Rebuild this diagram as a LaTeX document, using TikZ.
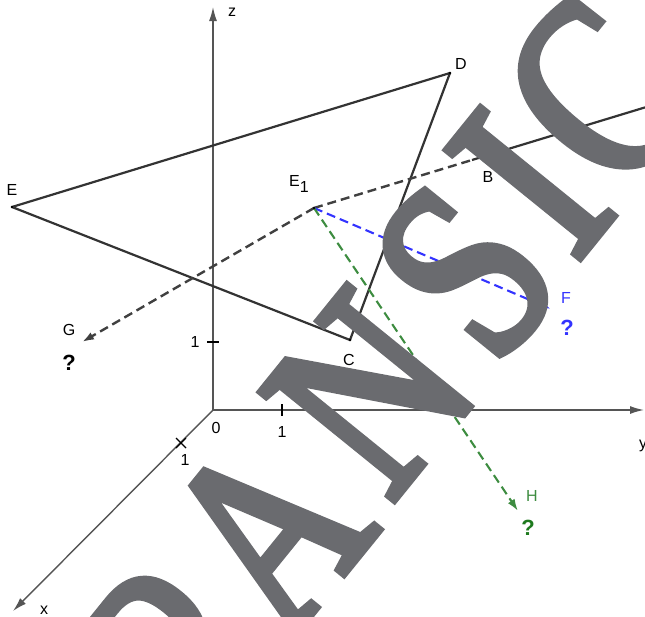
\documentclass[tikz,border=0pt]{standalone}
\usepackage{fontspec}
\setmainfont{Liberation Sans}
\newfontfamily\wmfont[FakeStretch=0.78,FakeBold=3]{Liberation Serif}
\usetikzlibrary{arrows.meta}
\definecolor{axisc}{HTML}{555555}
\definecolor{polyc}{HTML}{333333}
\definecolor{dashc}{HTML}{404040}
\definecolor{bluec}{HTML}{3333FF}
\definecolor{greenc}{HTML}{3D8C40}
\definecolor{greenlab}{HTML}{1E7A1E}
\definecolor{wmc}{HTML}{6A6B6F}
\begin{document}
\begin{tikzpicture}[x=1pt,y=-1pt,
  axis/.style={draw=axisc,line width=1.4pt,-{Latex[length=14pt,width=8pt]}},
  tickm/.style={draw=black,line width=1.2pt},
  poly/.style={draw=polyc,line width=2.2pt,line join=round},
  dline/.style={draw=dashc,line width=2.4pt,dash pattern=on 9pt off 5pt},
  blueline/.style={draw=bluec,line width=2.1pt,dash pattern=on 9pt off 5pt,-{Latex[length=12pt,width=8pt]}},
  greenline/.style={draw=greenc,line width=2.1pt,dash pattern=on 9pt off 5pt,-{Latex[length=12pt,width=8pt]}},
  arrowtip/.style={-{Latex[length=12pt,width=8pt]}},
  lab/.style={font=\fontsize{16}{16}\selectfont,inner sep=0pt},
  qm/.style={font=\fontsize{22}{22}\selectfont\bfseries,inner sep=0pt},
  wm/.style={font=\wmfont\fontsize{262}{262}\selectfont,text=wmc,inner sep=0pt,rotate=51,anchor=base}]
\useasboundingbox (0,0) rectangle (645,616);
% axes
\coordinate (O) at (213,410);
\coordinate (Xe) at (13,611);
\coordinate (Ye) at (644,410);
\coordinate (Ze) at (213,7);
\draw[axis] (O) -- (Xe);
\draw[axis] (O) -- (Ye);
\draw[axis] (O) -- (Ze);
% ticks
\draw[tickm] (282,404) -- (282,416);
\draw[tickm] (207,342) -- (219,342);
\draw[tickm] (176,438) -- (186,448);
\draw[tickm] (176,448) -- (186,438);
\node[lab] (lz) at (232,12) {z};
\node[lab] (ly) at (643,446) {y};
\node[lab] (lx) at (44,610) {x};
\node[lab] (l0) at (216,428) {0};
\node[lab] (l1y) at (282,432) {1};
\node[lab] (l1x) at (185,460) {1};
\node[lab] (l1z) at (195,342) {1};
% points
\coordinate (E) at (12,207);
\coordinate (D) at (450,73);
\coordinate (C) at (350,340);
\coordinate (E1) at (314,208);
\coordinate (B) at (472,160);
\coordinate (Bend) at (645,107.4);
\coordinate (G) at (82,342);
\coordinate (F) at (551,309);
\coordinate (H) at (518,511);
% polygon
\draw[poly] (E) -- (D) -- (C) -- cycle;
% line through E1 and B
\draw[dline] (E1) -- (B);
\draw[poly] (B) -- (Bend);
\draw[dline,arrowtip] (E1) -- (G);
\draw[blueline] (E1) -- (F);
\draw[greenline] (E1) -- (H);
\fill[black] (E) circle (1.3pt) (D) circle (1.3pt) (C) circle (1.3pt) (E1) circle (1.3pt);
% labels
\node[lab] (lE) at (12,190) {E};
\node[lab] (lE1) at (299,184) {E\raisebox{-6pt}{1}};
\node[lab] (lD) at (461,64) {D};
\node[lab] (lB) at (488,177) {B};
\node[lab] (lC) at (349,360) {C};
\node[lab,text=bluec] (lF) at (566,298) {F};
\node[qm,text=bluec] (qF) at (567,328) {?};
\node[lab] (lG) at (69,330) {G};
\node[qm] (qG) at (69,363) {?};
\node[lab,text=greenc] (lH) at (532,496) {H};
\node[qm,text=greenlab] (qH) at (528,528) {?};
% watermark
\begin{scope}
\clip (0,0) rectangle (645,616);
\node[wm] (wP) at (242,708) {P};
\node[wm] (wA) at (334,586) {A};
\node[wm] (wN) at (437,447) {N};
\node[wm] (wS) at (532,325) {S};
\node[wm] (wI) at (597,237) {I};
\node[wm] (wC) at (667,146) {C};
\end{scope}
\end{tikzpicture}
\end{document}
